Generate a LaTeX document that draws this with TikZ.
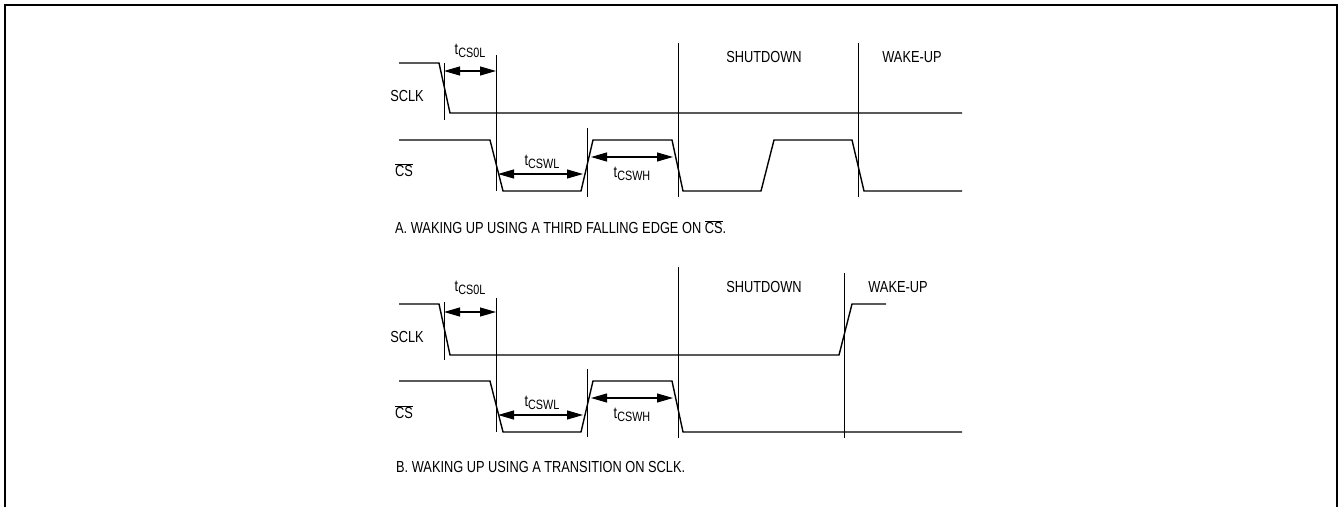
\documentclass[tikz,border=0pt]{standalone}
\usepackage{fontspec}
\setmainfont{Liberation Sans}[FakeStretch=0.8]
\usetikzlibrary{arrows.meta}
\newcommand{\tsub}[1]{t\raisebox{-0.35ex}{\fontsize{13.5}{13.5}\selectfont #1}}
\newcommand{\csbar}{$\overline{\mbox{CS}}$}
\begin{document}
\begin{tikzpicture}[x=1pt,y=-1pt,
  wave/.style={line width=1.4pt,line join=miter},
  vline/.style={line width=0.9pt},
  dim/.style={line width=1.1pt,{Triangle[length=16pt,width=9pt]}-{Triangle[length=16pt,width=9pt]}},
  lbl/.style={font=\fontsize{16}{16}\selectfont,inner sep=0pt},
  frame/.style={line width=2pt}]
\useasboundingbox (0,0) rectangle (1340,506);
\draw[frame] (5,507) -- (5,5) -- (1337,5) -- (1337,507);
% ---------------- Diagram A ----------------
\draw[wave] (399,63) -- (439,63) -- (450,113) -- (962,113);
\draw[wave] (399,140) -- (490,140) -- (503,191) -- (581,191) -- (593,140) -- (672,140)
  -- (683,191) -- (761,191) -- (774,140) -- (852,140) -- (864,191) -- (962,191);
\coordinate (a1t) at (444,63);  \coordinate (a1b) at (444,120);
\coordinate (a2t) at (496,55);  \coordinate (a2b) at (496,191);
\coordinate (a3t) at (587,128); \coordinate (a3b) at (587,197);
\coordinate (a4t) at (678,43);  \coordinate (a4b) at (678,197);
\coordinate (a5t) at (858,43);  \coordinate (a5b) at (858,197);
\foreach \i in {1,...,5} \draw[vline] (a\i t) -- (a\i b);
\coordinate (aA1) at (444,71);  \coordinate (aA2) at (496,71);
\coordinate (aB1) at (498,174); \coordinate (aB2) at (583,174);
\coordinate (aC1) at (591,157); \coordinate (aC2) at (673,157);
\draw[dim] (aA1) -- (aA2);
\draw[dim] (aB1) -- (aB2);
\draw[dim] (aC1) -- (aC2);
\node[lbl] (atcs0l) at (470,51) {\tsub{CS0L}};
\node[lbl] (atcswl) at (542,162) {\tsub{CSWL}};
\node[lbl] (atcswh) at (632,174) {\tsub{CSWH}};
\node[lbl] (asclk) at (407,96) {SCLK};
\node[lbl] (acs) at (404,170) {\csbar};
\node[lbl] (ashut) at (764,57) {SHUTDOWN};
\node[lbl] (awake) at (912,57) {WAKE-UP};
\node[lbl,anchor=west] (acap) at (395,227) {A. WAKING UP USING A THIRD FALLING EDGE ON \csbar.};
% ---------------- Diagram B ----------------
\draw[wave] (399,304) -- (439,304) -- (450,355) -- (839,355) -- (852,304) -- (886,304);
\draw[wave] (399,381) -- (490,381) -- (503,432) -- (581,432) -- (593,381) -- (672,381)
  -- (683,432) -- (962,432);
\coordinate (b1t) at (444,302); \coordinate (b1b) at (444,360);
\coordinate (b2t) at (496,298); \coordinate (b2b) at (496,432);
\coordinate (b3t) at (587,369); \coordinate (b3b) at (587,437);
\coordinate (b4t) at (678,267); \coordinate (b4b) at (678,438);
\coordinate (b5t) at (844,273); \coordinate (b5b) at (844,438);
\foreach \i in {1,...,5} \draw[vline] (b\i t) -- (b\i b);
\coordinate (bA1) at (444,312); \coordinate (bA2) at (496,312);
\coordinate (bB1) at (498,415); \coordinate (bB2) at (583,415);
\coordinate (bC1) at (591,398); \coordinate (bC2) at (673,398);
\draw[dim] (bA1) -- (bA2);
\draw[dim] (bB1) -- (bB2);
\draw[dim] (bC1) -- (bC2);
\node[lbl] (btcs0l) at (470,288) {\tsub{CS0L}};
\node[lbl] (btcswl) at (542,403) {\tsub{CSWL}};
\node[lbl] (btcswh) at (632,415) {\tsub{CSWH}};
\node[lbl] (bsclk) at (407,337) {SCLK};
\node[lbl] (bcs) at (404,412) {\csbar};
\node[lbl] (bshut) at (764,287) {SHUTDOWN};
\node[lbl] (bwake) at (898,287) {WAKE-UP};
\node[lbl,anchor=west] (bcap) at (396,467) {B. WAKING UP USING A TRANSITION ON SCLK.};
\end{tikzpicture}
\end{document}
